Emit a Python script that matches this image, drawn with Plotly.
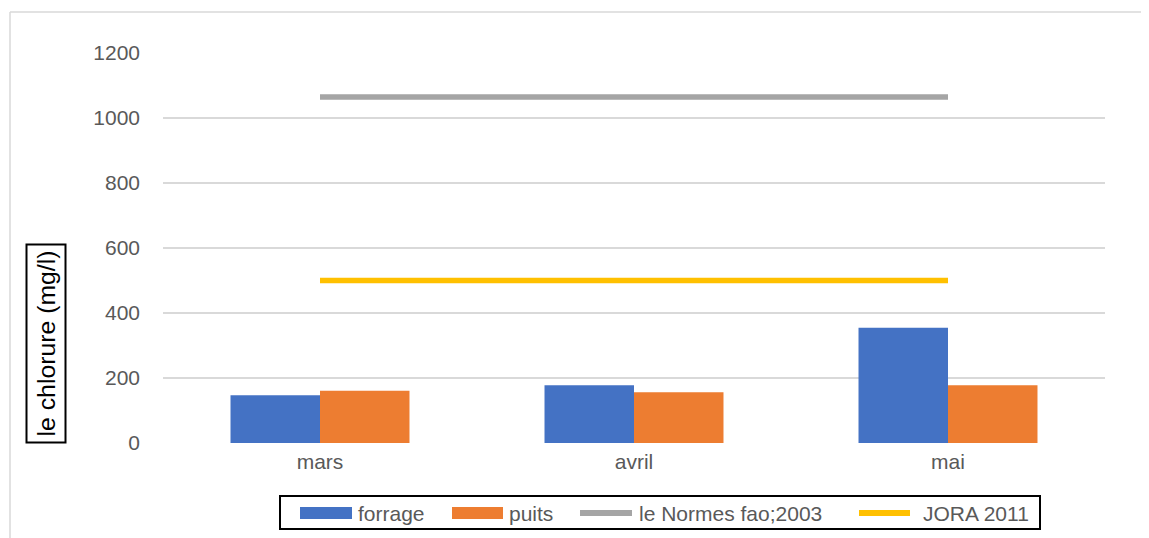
import plotly.graph_objects as go

categories = ["mars", "avril", "mai"]
forrage = [147, 178, 355]
puits = [161, 156, 178]
normes_fao = [1065, 1065, 1065]
jora = [500, 500, 500]
y_ticks = [0, 200, 400, 600, 800, 1000, 1200]
series_names = ["forrage", "puits", "le Normes fao;2003", "JORA 2011"]

FONT = "Liberation Sans"
TXT = "#595959"
BLUE, ORANGE, GRAY, YELLOW = "#4472C4", "#ED7D31", "#A5A5A5", "#FFC000"

# screen-space geometry of the plot area (page has an 8px body margin)
PL, PR, PT, PB = 163, 1105, 53, 443
OFF = 8


def px(X):
    return (X - PL) / (PR - PL)


def py(Y):
    return (PB - Y) / (PB - PT)


fig = go.Figure()
fig.add_trace(go.Bar(x=categories, y=forrage, name=series_names[0], showlegend=False,
                     marker=dict(color=BLUE, line=dict(width=0))))
fig.add_trace(go.Bar(x=categories, y=puits, name=series_names[1], showlegend=False,
                     marker=dict(color=ORANGE, line=dict(width=0))))
fig.add_trace(go.Scatter(x=categories, y=normes_fao, name=series_names[2],
                         mode="lines", line=dict(color=GRAY, width=5.5), showlegend=False))
fig.add_trace(go.Scatter(x=categories, y=jora, name=series_names[3],
                         mode="lines", line=dict(color=YELLOW, width=5.5), showlegend=False))

shapes = [
    # outer chart border (top and left visible)
    dict(type="line", xref="paper", yref="paper", x0=px(10), x1=px(1170),
         y0=py(12), y1=py(12), line=dict(color="#D9D9D9", width=1.5)),
    dict(type="line", xref="paper", yref="paper", x0=px(10), x1=px(10),
         y0=py(12), y1=py(570), line=dict(color="#D9D9D9", width=1.5)),
    # legend box
    dict(type="rect", xref="paper", yref="paper", x0=px(280), x1=px(1040),
         y0=py(496), y1=py(529), line=dict(color="black", width=2), fillcolor="white"),
    # legend swatches
    dict(type="rect", xref="paper", yref="paper", x0=px(300), x1=px(352),
         y0=py(507), y1=py(519), line=dict(width=0), fillcolor=BLUE),
    dict(type="rect", xref="paper", yref="paper", x0=px(452), x1=px(503),
         y0=py(507), y1=py(519), line=dict(width=0), fillcolor=ORANGE),
    dict(type="line", xref="paper", yref="paper", x0=px(580), x1=px(632),
         y0=py(513), y1=py(513), line=dict(color=GRAY, width=6)),
    dict(type="line", xref="paper", yref="paper", x0=px(859), x1=px(910),
         y0=py(513), y1=py(513), line=dict(color=YELLOW, width=6)),
]

annotations = [dict(text="le chlorure (mg/l)", textangle=-90, xref="paper", yref="paper",
                    x=px(46), y=py(343.5), xanchor="center", yanchor="middle",
                    showarrow=False, font=dict(size=24.8, color="black", family=FONT),
                    bordercolor="black", borderwidth=2, borderpad=5)]
for nm, X in zip(series_names, [356, 507, 637, 921]):
    annotations.append(dict(text=nm, xref="paper", yref="paper", x=px(X), y=py(513),
                            xanchor="left", yanchor="middle", showarrow=False,
                            font=dict(size=21, color=TXT, family=FONT)))

fig.update_layout(
    width=1149, height=538,
    margin=dict(l=PL - OFF, r=1149 - (PR - OFF), t=PT - OFF, b=538 - (PB - OFF), autoexpand=False),
    paper_bgcolor="white", plot_bgcolor="white",
    barmode="group", bargap=0.43, bargroupgap=0,
    font=dict(family=FONT, size=21, color=TXT),
    showlegend=False,
    xaxis=dict(showgrid=False, showline=False, ticks="", tickfont=dict(size=21, color=TXT),
               ticklabelstandoff=4),
    yaxis=dict(range=[0, 1200], tickvals=y_ticks, showgrid=True, gridcolor="#D9D9D9",
               gridwidth=1.5, zeroline=False, showline=False, ticks="",
               tickfont=dict(size=21, color=TXT), ticklabelstandoff=22),
    annotations=annotations,
    shapes=shapes,
)

fig.write_html("out.html")
